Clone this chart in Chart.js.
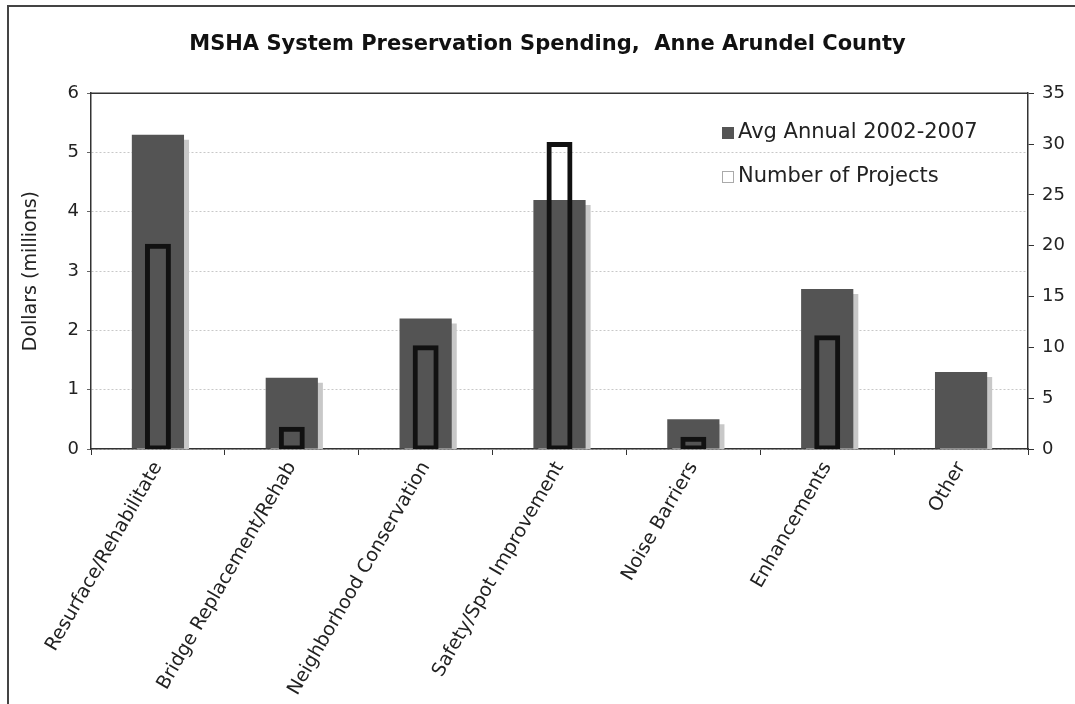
<!DOCTYPE html>
<html>
<head>
<meta charset="utf-8">
<script src="https://cdn.jsdelivr.net/npm/chart.js@4.4.0/dist/chart.umd.min.js"></script>
<style>
    html, body { margin: 0; padding: 0; background: #fff; overflow: hidden; }
    #frame { position: absolute; left: 7px; top: 5px; width: 1100px; height: 720px; border: 2px solid #444; box-sizing: border-box; }
    #wrap { position: absolute; left: 0; top: 0; width: 1075px; height: 704px; }
</style>
</head>
<body>
<div id="frame"></div>
<div id="wrap"><canvas id="chart" width="1075" height="704"></canvas></div>
<script>
// --- データ ---
const categories = [
    'Resurface/Rehabilitate',
    'Bridge Replacement/Rehab',
    'Neighborhood Conservation',
    'Safety/Spot Improvement',
    'Noise Barriers',
    'Enhancements',
    'Other'
];
const avgAnnual = [5.3, 1.2, 2.2, 4.2, 0.5, 2.7, 1.3];   // Dollars (millions)
const numProjects = [20, 2, 10, 30, 1, 11, 0];
const dollarTicks = [0, 1, 2, 3, 4, 5, 6];
const projectTicks = [0, 5, 10, 15, 20, 25, 30, 35];

const FONT = "'DejaVu Sans', Verdana, sans-serif";

// 影付きの棒 (Excel風)
const shadowPlugin = {
    id: 'barShadow',
    beforeDatasetDraw(chart, args) {
        if (args.index !== 0) return;
        const ctx = chart.ctx;
        ctx.save();
        ctx.shadowColor = '#c8c8c8';
        ctx.shadowOffsetX = 5;
        ctx.shadowOffsetY = 5;
        ctx.shadowBlur = 0;
    },
    afterDatasetDraw(chart, args) {
        if (args.index !== 0) return;
        chart.ctx.restore();
    }
};

// プロットエリアの枠線と凡例
const frameLegendPlugin = {
    id: 'frameLegend',
    afterDraw(chart) {
        const { ctx, chartArea: a } = chart;
        ctx.save();
        ctx.strokeStyle = '#333';
        ctx.lineWidth = 1.5;
        ctx.beginPath();
        ctx.moveTo(a.left, a.top);
        ctx.lineTo(a.right, a.top);
        ctx.stroke();

        // 凡例
        const x = 722, y1 = 133, y2 = 177;
        ctx.fillStyle = '#555';
        ctx.fillRect(x, y1 - 6, 12, 12);
        ctx.fillStyle = '#fff';
        ctx.strokeStyle = '#aaa';
        ctx.lineWidth = 1;
        ctx.fillRect(x, y2 - 6, 12, 12);
        ctx.strokeRect(x + 0.5, y2 - 5.5, 11, 11);
        ctx.fillStyle = '#222';
        ctx.font = '21px ' + FONT;
        ctx.textBaseline = 'middle';
        ctx.fillText('Avg Annual 2002-2007', x + 16, y1);
        ctx.fillText('Number of Projects', x + 16, y2);
        ctx.restore();
    }
};

const ctx = document.getElementById('chart').getContext('2d');
new Chart(ctx, {
    type: 'bar',
    data: {
        labels: categories,
        datasets: [{
            label: 'Avg Annual 2002-2007',
            data: avgAnnual,
            yAxisID: 'y',
            backgroundColor: '#545454',
            grouped: false,
            categoryPercentage: 1,
            barPercentage: 0.39,
            order: 2
        }, {
            label: 'Number of Projects',
            data: numProjects,
            yAxisID: 'y1',
            backgroundColor: 'rgba(0,0,0,0)',
            borderColor: '#111',
            borderWidth: 1,
            borderSkipped: false,
            inflateAmount: 2,
            grouped: false,
            categoryPercentage: 1,
            barPercentage: 0.164,
            order: 1
        }]
    },
    options: {
        responsive: false,
        animation: false,
        devicePixelRatio: 1,
        layout: { padding: { left: 20, right: 0, top: 0, bottom: 0 } },
        plugins: {
            legend: { display: false },
            tooltip: { enabled: false },
            title: {
                display: true,
                text: 'MSHA System Preservation Spending,  Anne Arundel County',
                color: '#111',
                font: { family: FONT, size: 21, weight: 'bold' },
                padding: { top: 32, bottom: 36 }
            }
        },
        scales: {
            x: {
                grid: { display: true, drawOnChartArea: false, drawTicks: true, tickLength: 6, color: '#333', offset: true },
                border: { display: true, color: '#333', width: 1.5 },
                ticks: { color: '#222', font: { family: FONT, size: 19 }, maxRotation: 60, minRotation: 60, autoSkip: false },
                afterFit(scale) { scale.height = 255; }
            },
            y: {
                position: 'left',
                min: dollarTicks[0],
                max: dollarTicks[dollarTicks.length - 1],
                afterBuildTicks(scale) { scale.ticks = dollarTicks.map(v => ({ value: v })); },
                grid: { color: '#c8c8c8', drawTicks: true, tickLength: 4, tickColor: '#666' },
                border: { display: true, color: '#333', width: 1.5, dash: [2, 2] },
                ticks: { color: '#222', font: { family: FONT, size: 18 }, padding: 8 },
                title: { display: true, text: 'Dollars (millions)', color: '#222', font: { family: FONT, size: 19 }, padding: 0 },
                afterFit(scale) { scale.width = 71; }
            },
            y1: {
                position: 'right',
                min: projectTicks[0],
                max: projectTicks[projectTicks.length - 1],
                afterBuildTicks(scale) { scale.ticks = projectTicks.map(v => ({ value: v })); },
                grid: { drawOnChartArea: false, drawTicks: true, tickLength: 6, color: '#333' },
                border: { display: true, color: '#333', width: 1.5 },
                ticks: { color: '#222', font: { family: FONT, size: 18 }, padding: 8 },
                afterFit(scale) { scale.width = 47; }
            }
        }
    },
    plugins: [shadowPlugin, frameLegendPlugin]
});
</script>
</body>
</html>
